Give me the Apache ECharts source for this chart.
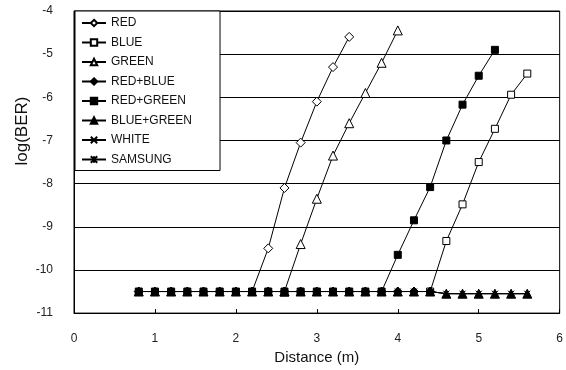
<!DOCTYPE html>
<html>
<head>
<meta charset="utf-8">
<script src="https://cdn.jsdelivr.net/npm/echarts@6/dist/echarts.min.js"></script>
<style>
  html, body { margin: 0; padding: 0; background: #fff; }
  #ber { width: 566px; height: 370px; }
</style>
</head>
<body>
<div id="ber"></div>
<script>
// values: distance (m) and log(BER)
var redX = [2.2, 2.4, 2.6, 2.8, 3.0, 3.2, 3.4];
var redY = [-10.5, -9.5, -8.1, -7.05, -6.1, -5.3, -4.6];

var greenX = [2.6, 2.8, 3.0, 3.2, 3.4, 3.6, 3.8, 4.0];
var greenY = [-10.5, -9.4, -8.35, -7.35, -6.6, -5.9, -5.2, -4.45];

var blueX = [4.4, 4.6, 4.8, 5.0, 5.2, 5.4, 5.6];
var blueY = [-10.5, -9.33, -8.48, -7.5, -6.73, -5.94, -5.45];

var redGreenX = [0.8, 1.0, 1.2, 1.4, 1.6, 1.8, 2.0, 2.2, 2.4, 2.6, 2.8, 3.0, 3.2, 3.4, 3.6, 3.8, 4.0, 4.2, 4.4, 4.6, 4.8, 5.0, 5.2];
var redGreenY = [-10.5, -10.5, -10.5, -10.5, -10.5, -10.5, -10.5, -10.5, -10.5, -10.5, -10.5, -10.5, -10.5, -10.5, -10.5, -10.5, -9.65, -8.85, -8.08, -7.0, -6.17, -5.5, -4.9];

var redBlueX = [0.8, 1.0, 1.2, 1.4, 1.6, 1.8, 2.0, 2.2, 2.4, 2.6, 2.8, 3.0, 3.2, 3.4, 3.6, 3.8, 4.0, 4.2, 4.4];
var redBlueY = [-10.5, -10.5, -10.5, -10.5, -10.5, -10.5, -10.5, -10.5, -10.5, -10.5, -10.5, -10.5, -10.5, -10.5, -10.5, -10.5, -10.5, -10.5, -10.5];

var blueGreenX = [0.8, 1.0, 1.2, 1.4, 1.6, 1.8, 2.0, 2.2, 2.4, 2.6, 2.8, 3.0, 3.2, 3.4, 3.6, 3.8, 4.0, 4.2, 4.4, 4.6, 4.8, 5.0, 5.2, 5.4, 5.6];
var blueGreenY = [-10.5, -10.5, -10.5, -10.5, -10.5, -10.5, -10.5, -10.5, -10.5, -10.5, -10.5, -10.5, -10.5, -10.5, -10.5, -10.5, -10.5, -10.5, -10.5, -10.55, -10.55, -10.55, -10.55, -10.55, -10.55];

var whiteX = blueGreenX;
var whiteY = blueGreenY;
var samsungX = blueGreenX;
var samsungY = blueGreenY;

var xTicks = [0, 1, 2, 3, 4, 5, 6];
var yTicks = [-11, -10, -9, -8, -7, -6, -5, -4];

function pairs(xs, ys) {
    var out = [];
    for (var i = 0; i < xs.length; i++) {
        out.push([xs[i], ys[i]]);
    }
    return out;
}

function mkSeries(name, xs, ys, symbol, size, fill, z) {
    return {
        name: name,
        type: 'line',
        data: pairs(xs, ys),
        symbol: symbol,
        symbolSize: size,
        z: z,
        lineStyle: { color: '#000', width: 1 },
        itemStyle: { color: fill, borderColor: '#000', borderWidth: 1 },
        emphasis: { disabled: true }
    };
}

var myChart = echarts.init(document.getElementById('ber'));

var option = {
    backgroundColor: '#fff',
    animation: false,
    textStyle: { fontFamily: 'Arial, "Liberation Sans", sans-serif' },
    grid: {
        left: 74, right: 3, top: 11, bottom: 56,
        show: true, borderColor: '#000', borderWidth: 1
    },
    legend: {
        orient: 'vertical',
        left: 75, top: 11,
        padding: [6, 28, 5, 6],
        itemGap: 7.5,
        itemWidth: 24,
        itemHeight: 8,
        backgroundColor: '#fff',
        borderColor: '#000',
        borderWidth: 1,
        textStyle: { fontSize: 12, color: '#111' },
        data: ['RED', 'BLUE', 'GREEN', 'RED+BLUE', 'RED+GREEN', 'BLUE+GREEN', 'WHITE', 'SAMSUNG']
    },
    xAxis: {
        type: 'value',
        min: xTicks[0], max: xTicks[xTicks.length - 1], interval: 1,
        axisLine: { lineStyle: { color: '#000', width: 1 } },
        axisTick: { inside: true, length: 4, lineStyle: { color: '#000' } },
        axisLabel: { margin: 20, fontSize: 12, color: '#222' },
        splitLine: { show: false },
        name: 'Distance (m)',
        nameLocation: 'middle',
        nameGap: 36,
        nameTextStyle: { fontSize: 15, color: '#111' }
    },
    yAxis: {
        type: 'value',
        min: yTicks[0], max: yTicks[yTicks.length - 1], interval: 1,
        axisLine: { show: true, lineStyle: { color: '#000', width: 1 } },
        axisTick: { show: false },
        axisLabel: { margin: 21, fontSize: 12, color: '#222' },
        splitLine: { lineStyle: { color: '#000', width: 1 } }
    },
    graphic: [{
        type: 'text',
        x: 22, y: 131,
        rotation: Math.PI / 2,
        style: {
            text: 'log(BER)',
            fontSize: 17,
            fontFamily: 'Arial, "Liberation Sans", sans-serif',
            fill: '#111',
            textAlign: 'center',
            textVerticalAlign: 'middle',
            align: 'center',
            verticalAlign: 'middle'
        }
    }],
    series: [
        mkSeries('RED', redX, redY, 'diamond', 9, '#fff', 2),
        mkSeries('BLUE', blueX, blueY, 'rect', 7, '#fff', 2),
        mkSeries('GREEN', greenX, greenY, 'triangle', 9, '#fff', 2),
        mkSeries('RED+BLUE', redBlueX, redBlueY, 'diamond', 9, '#000', 4),
        mkSeries('RED+GREEN', redGreenX, redGreenY, 'rect', 7, '#000', 5),
        mkSeries('BLUE+GREEN', blueGreenX, blueGreenY, 'triangle', 9, '#000', 3),
        mkSeries('WHITE', whiteX, whiteY, 'path://M-1,-1L1,1M1,-1L-1,1', 5, '#000', 1),
        mkSeries('SAMSUNG', samsungX, samsungY, 'path://M-1,-1L1,1M1,-1L-1,1M0,-1L0,1', 6, '#000', 1)
    ]
};

myChart.setOption(option);
</script>
</body>
</html>
